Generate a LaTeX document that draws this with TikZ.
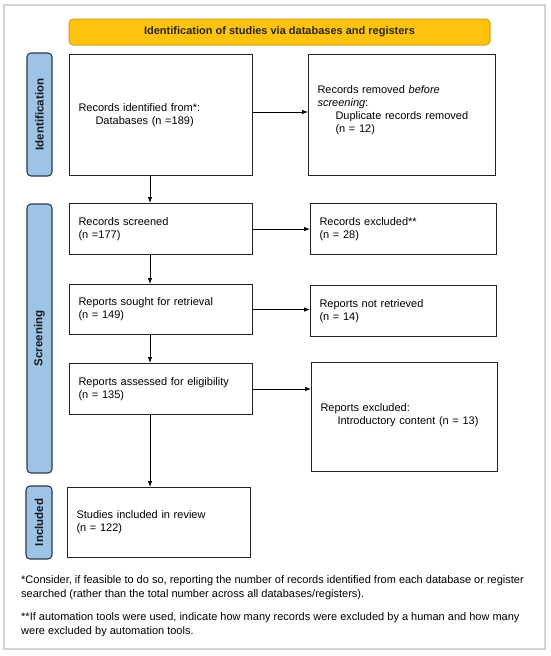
\documentclass[tikz,border=0pt]{standalone}
\usepackage{fontspec}
\setmainfont{Liberation Sans}
\usetikzlibrary{arrows.meta}
\definecolor{hdrfill}{HTML}{FFC20E}
\definecolor{hdrdraw}{HTML}{D4A11E}
\definecolor{lblfill}{HTML}{9DC3E6}
\definecolor{lbldraw}{HTML}{2E3A4A}
\definecolor{framecol}{HTML}{D3D3D3}
\definecolor{boxdraw}{HTML}{222222}
\tikzset{
  pbox/.style={draw=boxdraw, line width=1.1pt, anchor=north west, inner xsep=9pt, inner ysep=0pt,
    align=left, font=\fontsize{11}{13}\selectfont},
  sidelbl/.style={draw=lbldraw, fill=lblfill, line width=1.1pt, rounded corners=4pt},
  sidetxt/.style={rotate=90, font=\fontsize{11.5}{13}\selectfont\bfseries, text=black!90},
  arr/.style={-{Latex[length=6pt,width=4.5pt]}, line width=0.8pt, draw=black},
  foot/.style={anchor=north west, align=left, inner sep=0pt, font=\fontsize{11}{14}\selectfont}
}
\begin{document}
\begin{tikzpicture}[x=1pt,y=-1pt]
\useasboundingbox (0,0) rectangle (550,656);
\fill[white] (0,0) rectangle (550,656);
\draw[framecol, line width=1.5pt] (4,5) rectangle (545,649);

% header
\draw[hdrdraw, fill=hdrfill, line width=1pt, rounded corners=4pt] (69,19) rectangle (490,45);
\node[font=\fontsize{11}{13}\selectfont\bfseries, text=black!85] (hdr) at (279.5,32) {Identification of studies via databases and registers};

% side labels
\draw[sidelbl] (27,53) rectangle (52,176);
\node[sidetxt] (lid) at (39.5,114.5) {Identification};
\draw[sidelbl] (27,204) rectangle (52,473);
\node[sidetxt] (lsc) at (39.5,338.5) {Screening};
\draw[sidelbl] (26,486) rectangle (52,559);
\node[sidetxt] (lin) at (39,522.5) {Included};

% boxes
\node[pbox, text width=165pt, minimum height=121pt] (id) at (69,54)
  {Records identified from*:\\\hspace*{17pt}Databases (n =189)};
\node[pbox, text width=169pt, minimum height=121pt] (rem) at (308,54)
  {Records removed \textit{before}\\\textit{screening}:\\\hspace*{18pt}Duplicate records removed\\\hspace*{18pt}(n = 12)\\[-1pt]\mbox{}};
\node[pbox, text width=165pt, minimum height=51pt] (scr) at (69,203)
  {Records screened\\(n =177)};
\node[pbox, text width=168pt, minimum height=51pt] (exc) at (310,203)
  {Records excluded**\\(n = 28)};
\node[pbox, text width=165pt, minimum height=50pt] (sou) at (69,284)
  {Reports sought for retrieval\\(n = 149)};
\node[pbox, text width=168pt, minimum height=51pt] (nrt) at (310,285)
  {Reports not retrieved\\(n = 14)};
\node[pbox, text width=165pt, minimum height=51pt] (ass) at (69,363)
  {Reports assessed for eligibility\\(n = 135)};
\node[pbox, text width=168pt, minimum height=109pt] (exr) at (311,362)
  {Reports excluded:\\\hspace*{17pt}Introductory content (n = 13)\\[-7pt]\mbox{}};
\node[pbox, text width=165pt, minimum height=70pt] (stu) at (67,487)
  {Studies included in review\\(n = 122)};

% connectors
\coordinate (ax) at (150,0);
\draw[arr] (id.south -| ax) -- (scr.north -| ax);
\draw[arr] (scr.south -| ax) -- (sou.north -| ax);
\draw[arr] (sou.south -| ax) -- (ass.north -| ax);
\draw[arr] (ass.south -| ax) -- (stu.north -| ax);
\coordinate (y1) at (0,112);
\draw[arr] (id.east |- y1) -- (rem.west |- y1);
\draw[arr] (scr.east) -- (scr.east -| exc.west);
\draw[arr] (sou.east) -- (sou.east -| nrt.west);
\coordinate (y4) at (0,389);
\draw[arr] (ass.east |- y4) -- (exr.west |- y4);

% footnotes
\node[foot] (fn1) at (21,575) {*Consider, if feasible to do so, reporting the number of records identified from each database or register\\searched (rather than the total number across all databases/registers).};
\node[foot] (fn2) at (21,612) {**If automation tools were used, indicate how many records were excluded by a human and how many\\were excluded by automation tools.};
\end{tikzpicture}
\end{document}
